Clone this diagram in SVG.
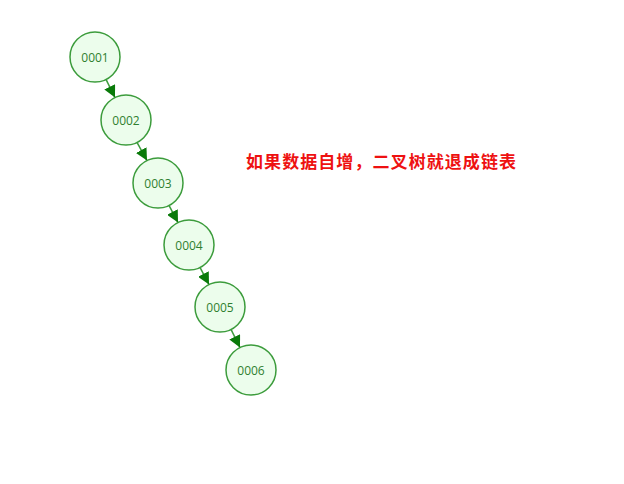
<svg xmlns="http://www.w3.org/2000/svg" width="624" height="484" viewBox="0 0 624 484">
<style>
.n circle{fill:#ecfdec;stroke:#3c9c3c;stroke-width:1.5}
.n text{font-family:"Open Sans","Noto Sans",sans-serif;font-size:12px;fill:#2f7f2f;text-anchor:middle;dominant-baseline:central}
.e line{stroke:#3c9c3c;stroke-width:1.5;marker-end:url(#ah)}
.t{font-family:"Noto Sans CJK SC",sans-serif;font-weight:bold;font-size:17px;fill:#ee1111}
</style>
<defs>
<marker id="ah" viewBox="0 0 10 10" refX="10" refY="5" markerWidth="12" markerHeight="12" markerUnits="userSpaceOnUse" orient="auto"><path d="M0,0L10,5L0,10z" fill="#0a7a0a"/></marker>
</defs>
<g id="edges" class="e">
<line x1="106" y1="79.4" x2="115" y2="97.6"/>
<line x1="137" y1="142.4" x2="147" y2="160.6"/>
<line x1="169" y1="205.4" x2="178" y2="222.6"/>
<line x1="200" y1="267.4" x2="209" y2="284.6"/>
<line x1="231" y1="329.4" x2="240" y2="347.6"/>
</g>
<g id="n1" class="n"><circle cx="95" cy="57" r="25"/><text x="95" y="57">0001</text></g>
<g id="n2" class="n"><circle cx="126" cy="120" r="25"/><text x="126" y="120">0002</text></g>
<g id="n3" class="n"><circle cx="158" cy="183" r="25"/><text x="158" y="183">0003</text></g>
<g id="n4" class="n"><circle cx="189" cy="245" r="25"/><text x="189" y="245">0004</text></g>
<g id="n5" class="n"><circle cx="220" cy="307" r="25"/><text x="220" y="307">0005</text></g>
<g id="n6" class="n"><circle cx="251" cy="370" r="25"/><text x="251" y="370">0006</text></g>
<text class="t" x="246" y="168" textLength="270">如果数据自增，二叉树就退成链表</text>
</svg>
